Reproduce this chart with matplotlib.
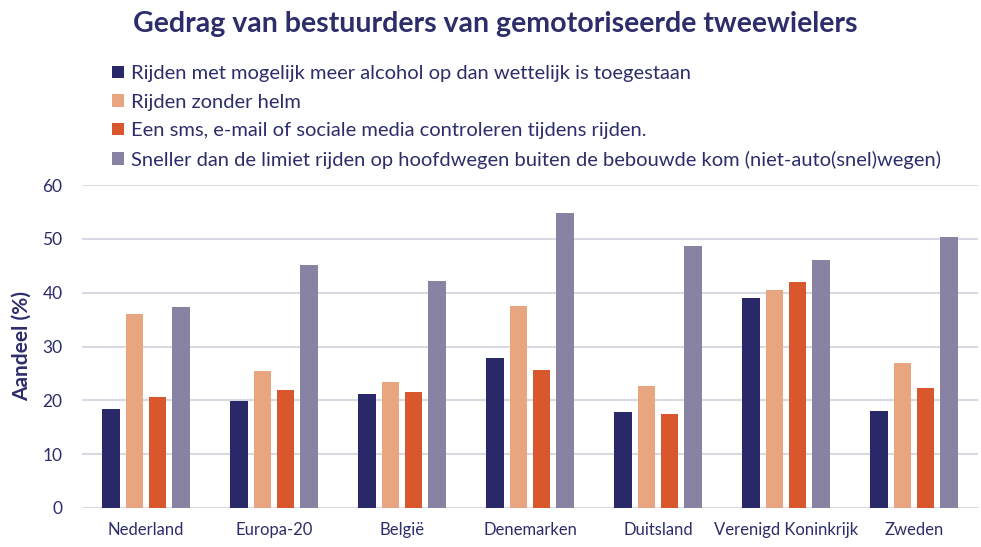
import matplotlib
matplotlib.use("Agg")
import matplotlib.pyplot as plt
import numpy as np

categories = ["Nederland", "Europa-20", "België", "Denemarken", "Duitsland",
              "Verenigd Koninkrijk", "Zweden"]
series_names = [
    "Rijden met mogelijk meer alcohol op dan wettelijk is toegestaan",
    "Rijden zonder helm",
    "Een sms, e-mail of sociale media controleren tijdens rijden.",
    "Sneller dan de limiet rijden op hoofdwegen buiten de bebouwde kom (niet-auto(snel)wegen)",
]
alcohol = [18.4, 19.8, 21.2, 27.9, 17.8, 39.1, 18.0]
helm = [36.0, 25.5, 23.4, 37.5, 22.6, 40.5, 27.0]
sms = [20.7, 21.9, 21.6, 25.6, 17.4, 42.0, 22.2]
snelheid = [37.4, 45.1, 42.2, 54.8, 48.7, 46.1, 50.4]
yticks = [0, 10, 20, 30, 40, 50, 60]

colors = ["#29296a", "#e9a580", "#d9572c", "#8883a3"]
text_color = "#2d2d6b"
font = "Lato"

fig = plt.figure(figsize=(9.81, 5.47), dpi=100)
ax = fig.add_axes([82/981, 1-508/547, (978-82)/981, (508-185)/547])

x = np.arange(len(categories))
step = 0.18
width = 0.14
all_series = [alcohol, helm, sms, snelheid]
handles = []
for i, (vals, c) in enumerate(zip(all_series, colors)):
    b = ax.bar(x + (i - 1.5) * step, vals, width=width, color=c, zorder=3,
               label=series_names[i])
    handles.append(b)

ax.set_xlim(-0.5, len(categories) - 0.5)
ax.set_ylim(0, 60)
ax.set_yticks(yticks)
ax.yaxis.grid(True, color="#d9d9e3", linewidth=1.5, zorder=0)
for s in ax.spines.values():
    s.set_visible(False)
ax.tick_params(axis="both", length=0, colors=text_color, labelsize=12)
ax.tick_params(axis="y", pad=14)
ax.tick_params(axis="x", pad=10)
ax.set_xticks(x)
ax.set_xticklabels(categories, fontfamily=font, fontsize=12, color=text_color)
for lab in ax.get_yticklabels():
    lab.set_fontfamily(font)
    lab.set_fontsize(12.5)
    lab.set_color(text_color)

fig.text(22/981, 1-346/547, "Aandeel (%)", rotation=90, ha="center", va="center",
         fontfamily=font, fontweight="bold", fontsize=15, color=text_color)

fig.text(495/981, 1-24/547, "Gedrag van bestuurders van gemotoriseerde tweewielers",
         ha="center", va="center", fontfamily=font, fontweight="bold",
         fontsize=20.5, color=text_color)

leg = fig.legend(handles=handles, labels=series_names, loc="upper left",
                 bbox_to_anchor=(104/981, 1-57/547), frameon=False,
                 prop={"family": font, "size": 14.5}, labelcolor=text_color,
                 handlelength=0.6, handleheight=0.6, handletextpad=0.35,
                 labelspacing=0.57, borderaxespad=0)

fig.savefig("out.png", dpi=100, facecolor="white")
